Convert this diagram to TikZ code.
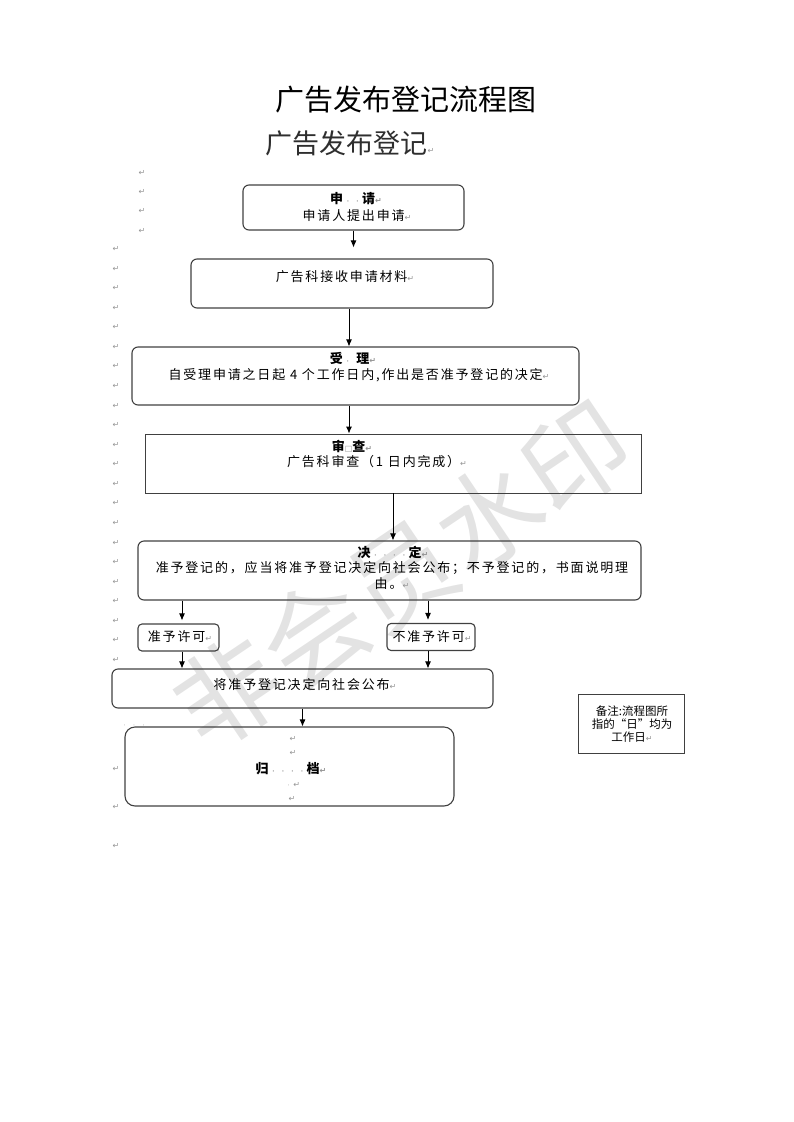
\documentclass[tikz,border=0pt]{standalone}
\usepackage{fontspec}
\setmainfont{Noto Sans CJK SC}
\newfontfamily\boxfont[LetterSpace=14]{Noto Sans CJK SC}
\newfontfamily\symfont{DejaVu Sans}
\usetikzlibrary{arrows.meta}
\usetikzlibrary{positioning}
\tikzset{box/.style = {draw=mline, line width=1.1pt, rounded corners=6pt, inner sep=0}}
\tikzset{sqbox/.style = {draw=mline, line width=0.9pt, inner sep=0}}
\tikzset{txt/.style = {inner sep=0, align=center, font=\boxfont\fontsize{13}{16}\selectfont}}
\tikzset{head/.style = {txt, font=\boxfont\fontsize{13}{16}\selectfont\bfseries}}
\tikzset{rmark/.style = {inner sep=0}}
\tikzset{arr/.style = {draw=black, line width=0.9pt, -{Latex[length=7pt,width=6pt]}}}
\definecolor{mline}{rgb}{0.25, 0.25, 0.25}
\definecolor{mmark}{rgb}{0.58, 0.58, 0.58}
\definecolor{mwater}{rgb}{0.89, 0.89, 0.89}
\newcommand{\rmk}{{\symfont\fontsize{8}{8}\selectfont\color{mmark}↵}}
\newcommand{\spc}{\makebox[9.5pt]{\symfont\fontsize{6}{6}\selectfont\color{mmark}·}}

\begin{document}
\begin{tikzpicture}[x=1pt, y=-1pt]
    \useasboundingbox (0, 0) rectangle (793, 1122);

    % watermark
    \node [rotate=34, text=mwater, font=\fontsize{105}{105}\selectfont] (water) at (402, 575) {非会员水印};

    \node (title) at (406, 100) {\fontsize{29}{32}\selectfont 广告发布登记流程图};
    \node [text=black!82] (subtitle) at (350, 143) {\fontsize{27}{30}\selectfont 广告发布登记\rmk};

    % paragraph marks on the left
    \foreach \y in {173, 192, 211, 231}
      \node [rmark] (mt\y) at (142, \y) {\rmk};
    \foreach \k in {0, ..., 21}
      \node [rmark] (ml\k) at (116, {249 + 19.57 * \k}) {\rmk};
    \foreach \y in {769, 807, 846}
      \node [rmark] (mb\y) at (116, \y) {\rmk};
    \node [rmark] (mdots) at (134, 726) {\spc\spc\spc};

    % boxes
    \node [box, minimum width=221pt, minimum height=45pt] (apply) at (353.5, 207.5) {};
    \node [box, minimum width=302pt, minimum height=49pt] (receive) at (342, 283.5) {};
    \node [box, minimum width=447pt, minimum height=58pt] (accept) at (355.5, 376) {};
    \node [sqbox, minimum width=496pt, minimum height=59pt] (review) at (393, 463.5) {};
    \node [box, minimum width=503pt, minimum height=59pt] (decide) at (389.5, 570.5) {};
    \node [box, rounded corners=4pt, minimum width=81pt, minimum height=27pt] (permit) at (178.5, 637.5) {};
    \node [box, rounded corners=4pt, minimum width=88pt, minimum height=27pt] (reject) at (431, 637) {};
    \node [box, minimum width=381pt, minimum height=39pt] (publish) at (302.5, 688.5) {};
    \node [box, rounded corners=10pt, minimum width=329pt, minimum height=79pt] (archive) at (289.5, 766.5) {};
    \node [sqbox, minimum width=106pt, minimum height=59pt] (note) at (631, 723.5) {};

    % texts in the boxes
    \node [head] (applyh) at (356, 199) {申\spc\spc 请\rmk};
    \node [txt] (applyt) at (357, 216) {申请人提出申请\rmk};
    \node [txt] (receivet) at (345, 277) {广告科接收申请材料\rmk};
    \node [head] (accepth) at (353, 358) {受\spc\hspace{4pt}理\rmk};
    \node [txt] (acceptt) at (359, 375) {自受理申请之日起 4 个工作日内,作出是否准予登记的决定\rmk};
    \node [head] (reviewh) at (352, 446) {审{\symfont\fontsize{8}{8}\selectfont\color{mmark}□}查\rmk};
    \node [txt] (reviewt) at (377, 462) {广告科审查（1 日内完成）\rmk};
    \node [head] (decideh) at (393, 552) {决\spc\spc\spc\spc 定\rmk};
    \node [txt] (decidet) at (392, 575) {准予登记的，应当将准予登记决定向社会公布；不予登记的，书面说明理\\由。\rmk};
    \node [txt] (permitt) at (180, 637) {准予许可\rmk};
    \node [txt] (rejectt) at (432, 637) {不准予许可\rmk};
    \node [txt] (publisht) at (305, 685) {将准予登记决定向社会公布\rmk};
    \node [head] (archiveh) at (291, 769) {归\spc\spc\spc\spc 档\rmk};
    \node [rmark] (am1) at (293, 739) {\rmk};
    \node [rmark] (am2) at (293, 753) {\rmk};
    \node [rmark] (am3) at (292, 785) {\spc\rmk};
    \node [rmark] (am4) at (292, 799) {\rmk};
    \node [inner sep=0, align=center, font=\fontsize{11.5}{13}\selectfont] (notet) at (632, 724) {备注:流程图所\\指的“日”均为\\工作日\rmk};

    % connectors
    \coordinate (ccol) at (349, 0);
    \coordinate (lcol) at (182, 0);
    \coordinate (rcol) at (428, 0);
    \draw [arr, shorten >=11pt] (apply.south) -- (apply.south |- receive.north);
    \draw [arr] (receive.south -| ccol) -- (accept.north -| ccol);
    \draw [arr] (accept.south -| ccol) -- (review.north -| ccol);
    \draw [arr] (review.south) -- (review.south |- decide.north);
    \draw [arr, shorten >=3pt] (decide.south -| lcol) -- (permit.north -| lcol);
    \draw [arr, shorten >=3pt] (decide.south -| rcol) -- (reject.north -| rcol);
    \draw [arr] (permit.south -| lcol) -- (publish.north -| lcol);
    \draw [arr] (reject.south -| rcol) -- (publish.north -| rcol);
    \draw [arr] (publish.south) -- (publish.south |- archive.north);
\end{tikzpicture}
\end{document}
